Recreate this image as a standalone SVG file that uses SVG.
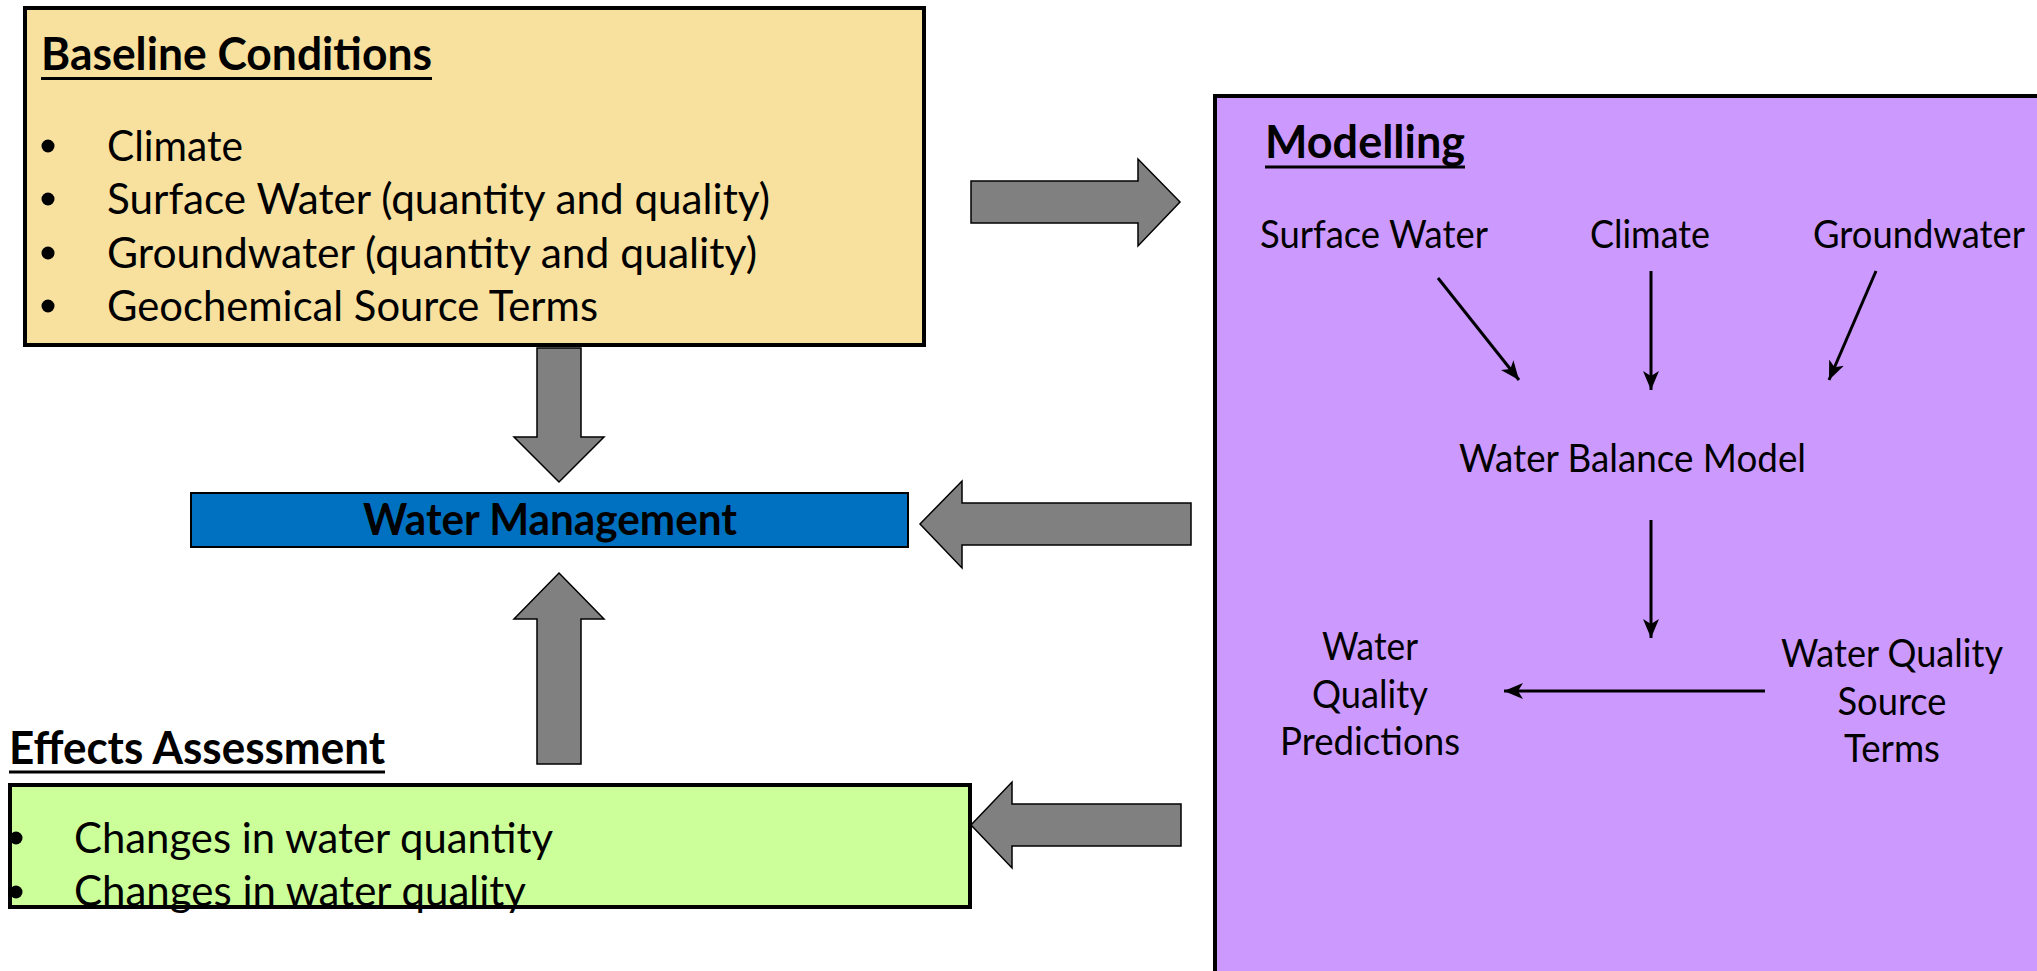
<svg xmlns="http://www.w3.org/2000/svg" width="2037" height="971" viewBox="0 0 2037 971">
<defs>
<style>
.t{font-family:Lato,"Open Sans","Liberation Sans",sans-serif;fill:#000}
.title{font-size:46px;font-weight:bold}
.bul{font-size:43px}
.wm{font-size:43px;font-weight:bold}
.mod{font-size:38px}
.ul{stroke:#000;stroke-width:3}
.blk{fill:#808080;stroke:#000;stroke-width:1.5;stroke-linejoin:miter}
.thin{stroke:#000;stroke-width:3;fill:none;marker-end:url(#ah)}
</style>
<marker id="ah" markerUnits="userSpaceOnUse" markerWidth="22" markerHeight="18" refX="19" refY="8" orient="auto" viewBox="0 0 22 18">
<path d="M0,0 L19,8 L0,16 L5,8 z" fill="#000"/>
</marker>
</defs>
<rect width="2037" height="971" fill="#fff"/>

<g id="baseline">
<rect x="25" y="8" width="899" height="337" fill="#F8E09E" stroke="#000" stroke-width="4"/>
<text class="t title" x="41" y="70" textLength="391" lengthAdjust="spacingAndGlyphs">Baseline Conditions</text>
<line class="ul" x1="41" y1="78.5" x2="432" y2="78.5"/>
<circle cx="48" cy="146" r="6.5"/>
<circle cx="48" cy="199" r="6.5"/>
<circle cx="48" cy="253" r="6.5"/>
<circle cx="48" cy="306" r="6.5"/>
<text class="t bul" x="107" y="161" textLength="136" lengthAdjust="spacingAndGlyphs">Climate</text>
<text class="t bul" x="107" y="214" textLength="663" lengthAdjust="spacingAndGlyphs">Surface Water (quantity and quality)</text>
<text class="t bul" x="107" y="268" textLength="650" lengthAdjust="spacingAndGlyphs">Groundwater (quantity and quality)</text>
<text class="t bul" x="107" y="321" textLength="491" lengthAdjust="spacingAndGlyphs">Geochemical Source Terms</text>
</g>

<g id="water-management">
<rect x="191" y="493" width="717" height="54" fill="#0070C0" stroke="#000" stroke-width="2"/>
<text class="t wm" x="550" y="535" text-anchor="middle" textLength="374" lengthAdjust="spacingAndGlyphs">Water Management</text>
</g>

<g id="effects">
<text class="t title" x="9" y="764" textLength="376" lengthAdjust="spacingAndGlyphs">Effects Assessment</text>
<line class="ul" x1="9" y1="772" x2="385" y2="772"/>
<rect x="10" y="785" width="960" height="122" fill="#CCFF99" stroke="#000" stroke-width="4"/>
<circle cx="16" cy="838" r="6.5"/>
<circle cx="16" cy="892" r="6.5"/>
<text class="t bul" x="74" y="853" textLength="479" lengthAdjust="spacingAndGlyphs">Changes in water quantity</text>
<text class="t bul" x="74" y="906" textLength="452" lengthAdjust="spacingAndGlyphs">Changes in water quality</text>
</g>

<g id="modelling">
<rect x="1215" y="96" width="840" height="900" fill="#CC99FF" stroke="#000" stroke-width="4"/>
<text class="t title" x="1265" y="158" textLength="200" lengthAdjust="spacingAndGlyphs">Modelling</text>
<line class="ul" x1="1265" y1="167" x2="1465" y2="167"/>
<text class="t mod" x="1260" y="248" textLength="228" lengthAdjust="spacingAndGlyphs">Surface Water</text>
<text class="t mod" x="1590" y="248" textLength="120" lengthAdjust="spacingAndGlyphs">Climate</text>
<text class="t mod" x="1813" y="248" textLength="212" lengthAdjust="spacingAndGlyphs">Groundwater</text>
<text class="t mod" x="1459" y="472" textLength="347" lengthAdjust="spacingAndGlyphs">Water Balance Model</text>
<text class="t mod" x="1370" y="660" text-anchor="middle" textLength="96" lengthAdjust="spacingAndGlyphs">Water</text>
<text class="t mod" x="1370" y="708" text-anchor="middle" textLength="116" lengthAdjust="spacingAndGlyphs">Quality</text>
<text class="t mod" x="1370" y="755" text-anchor="middle" textLength="180" lengthAdjust="spacingAndGlyphs">Predictions</text>
<text class="t mod" x="1892" y="667" text-anchor="middle" textLength="222" lengthAdjust="spacingAndGlyphs">Water Quality</text>
<text class="t mod" x="1892" y="715" text-anchor="middle" textLength="109" lengthAdjust="spacingAndGlyphs">Source</text>
<text class="t mod" x="1892" y="762" text-anchor="middle" textLength="96" lengthAdjust="spacingAndGlyphs">Terms</text>
</g>

<g id="connectors">
<polygon class="blk" points="971,181 1138,181 1138,159 1180,202 1138,246 1138,223 971,223"/>
<polygon class="blk" points="537,348 581,348 581,437 604,437 559,482 514,437 537,437"/>
<polygon class="blk" points="1191,503 962,503 962,481 920,524 962,568 962,545 1191,545"/>
<polygon class="blk" points="559,573 604,619 581,619 581,764 537,764 537,619 514,619"/>
<polygon class="blk" points="1181,804 1012,804 1012,782 971,825 1012,868 1012,846 1181,846"/>
<line class="thin" x1="1438" y1="278" x2="1519" y2="380"/>
<line class="thin" x1="1651" y1="271" x2="1651" y2="390"/>
<line class="thin" x1="1876" y1="271" x2="1829" y2="380"/>
<line class="thin" x1="1651" y1="520" x2="1651" y2="638"/>
<line class="thin" x1="1765" y1="691" x2="1504" y2="691"/>
</g>
</svg>
